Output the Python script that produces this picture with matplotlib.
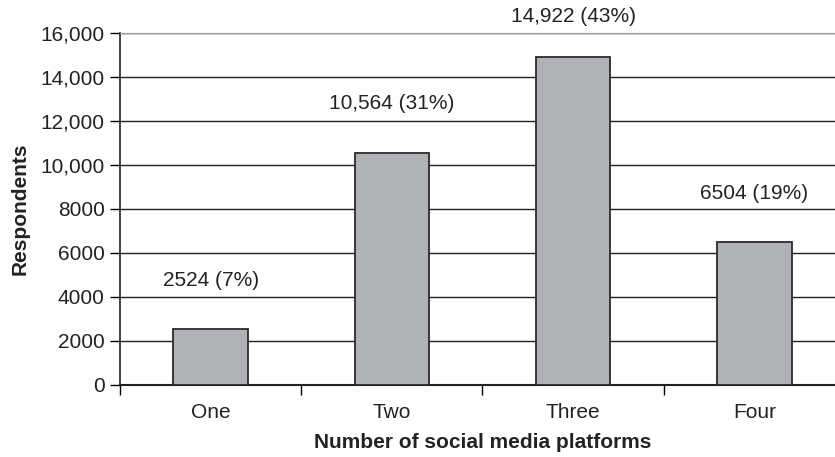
import matplotlib.pyplot as plt
from matplotlib.ticker import FuncFormatter, FixedLocator

categories = ['One', 'Two', 'Three', 'Four']
respondents = [2524, 10564, 14922, 6504]
bar_labels = ['2524 (7%)', '10,564 (31%)', '14,922 (43%)', '6504 (19%)']
label_offsets = [35, 35, 29, 35]  # points above bar top

plt.rcParams['font.family'] = ['Liberation Sans', 'DejaVu Sans']

fig = plt.figure(figsize=(8.35, 4.57), dpi=100)
# axes runs slightly past the right edge, like the cropped original
ax = fig.add_axes([120 / 835, (457 - 385) / 457, 725 / 835, 352 / 457])

x = list(range(len(categories)))
ax.bar(x, respondents, width=0.41, color='#b1b2b5', edgecolor='#2a2a2a',
       linewidth=1.3, zorder=3)

for xi, v, lab, off in zip(x, respondents, bar_labels, label_offsets):
    ax.annotate(lab, (xi, v), xytext=(0, off), textcoords='offset points',
                ha='center', va='center', fontsize=15, color='#222222',
                annotation_clip=False)

ax.set_xlim(-0.5, 3.5)
ax.set_ylim(0, 16000)
ax.set_yticks(range(0, 16001, 2000))
ax.yaxis.set_major_formatter(FuncFormatter(
    lambda v, p: f'{int(v):,}' if v >= 10000 else f'{int(v)}'))
ax.yaxis.grid(True, color='#222222', linewidth=1.0, zorder=0)
ax.set_axisbelow(True)

# category ticks sit between bars, names go in the middle
ax.xaxis.set_major_locator(FixedLocator([-0.5, 0.5, 1.5, 2.5, 3.5]))
ax.xaxis.set_major_formatter(FuncFormatter(lambda v, p: ''))
ax.xaxis.set_minor_locator(FixedLocator(x))
ax.set_xticklabels(categories, minor=True)
ax.tick_params(axis='x', which='major', direction='out', length=7, width=1.0)
ax.tick_params(axis='x', which='minor', length=0, pad=13, labelsize=15,
               labelcolor='#222222')
ax.tick_params(axis='y', direction='out', length=7, width=1.0, pad=4,
               labelsize=15, labelcolor='#222222')

ax.spines['right'].set_visible(False)
ax.spines['top'].set_color('#999999')
ax.spines['left'].set_color('#222222')
ax.spines['bottom'].set_color('#222222')
ax.spines['left'].set_linewidth(1.2)
ax.spines['bottom'].set_linewidth(1.5)

ax.set_ylabel('Respondents', fontsize=15, fontweight='bold', color='#222222',
              labelpad=8)
ax.set_xlabel('Number of social media platforms', fontsize=15,
              fontweight='bold', color='#222222', labelpad=8)

fig.savefig('out.png', dpi=100)
